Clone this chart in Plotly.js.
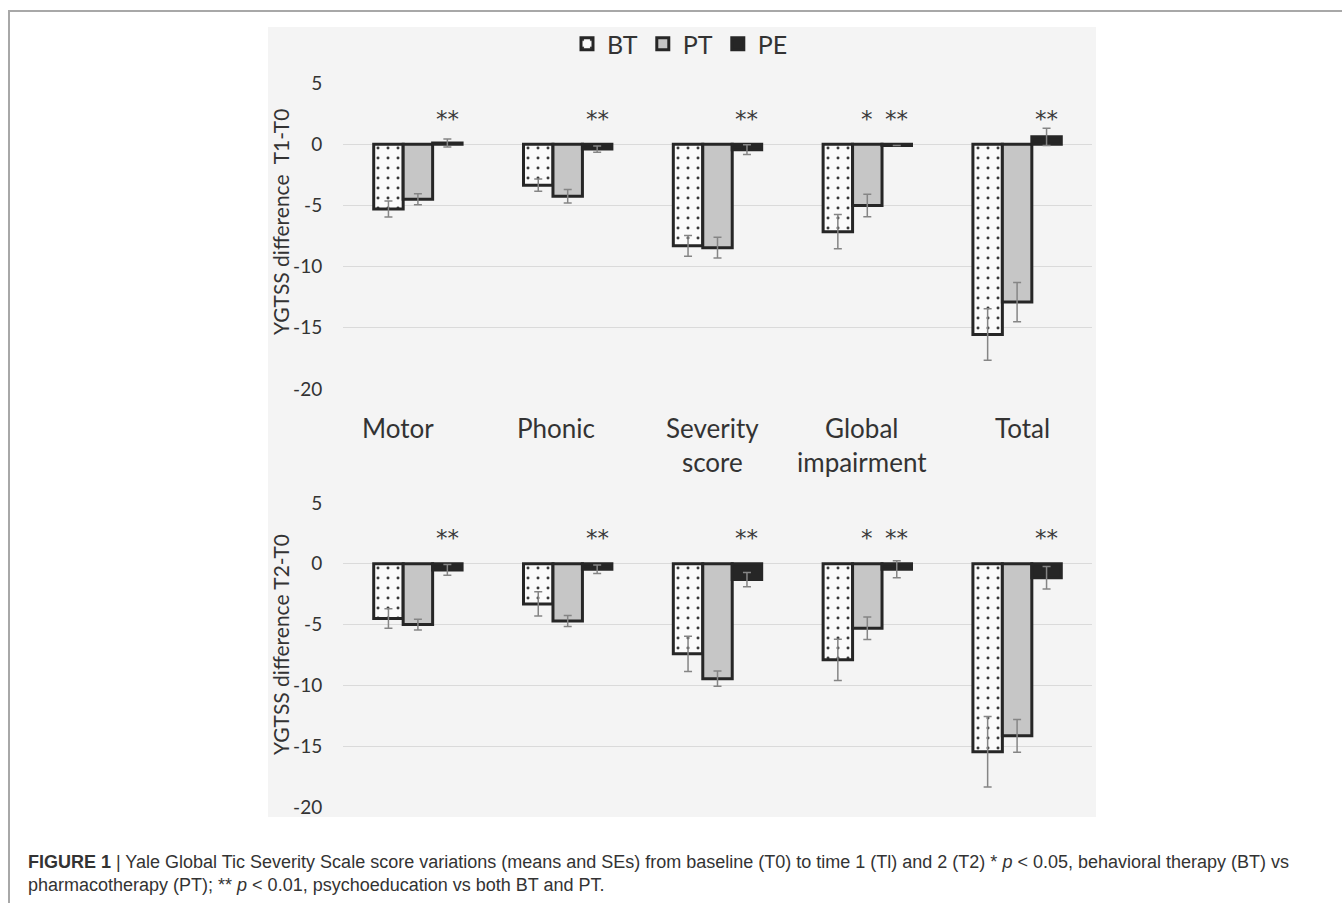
<!DOCTYPE html>
<html>
<head>
<meta charset="utf-8">
<script src="https://cdn.plot.ly/plotly-3.0.1.min.js"></script>
<style>
html,body{margin:0;padding:0;background:#fff;}
#chart{width:1342px;height:903px;}
</style>
</head>
<body>
<div id="chart"></div>
<script>
// ---- data ----
var categories = ['Motor', 'Phonic', 'Severity score', 'Global impairment', 'Total'];
var categoryLabels = ['Motor', 'Phonic', 'Severity<br>score', 'Global<br>impairment', 'Total'];
var seriesNames = ['BT', 'PT', 'PE'];

// T1 - T0
var t1BT = [-5.3, -3.35, -8.3, -7.15, -15.55];
var t1BTse = [0.65, 0.5, 0.85, 1.4, 2.1];
var t1PT = [-4.5, -4.25, -8.45, -5.0, -12.9];
var t1PTse = [0.45, 0.55, 0.85, 0.92, 1.6];
var t1PE = [0.1, -0.4, -0.45, -0.1, 0.6];
var t1PEse = [0.33, 0.25, 0.4, 0, 0.7];

// T2 - T0
var t2BT = [-4.5, -3.3, -7.4, -7.9, -15.45];
var t2BTse = [0.8, 1.0, 1.45, 1.7, 2.9];
var t2PT = [-5.0, -4.7, -9.45, -5.3, -14.15];
var t2PTse = [0.45, 0.45, 0.63, 0.93, 1.35];
var t2PE = [-0.5, -0.45, -1.3, -0.45, -1.15];
var t2PEse = [0.45, 0.35, 0.58, 0.7, 0.92];

// significance marks
var sigBTvsPT = ['', '', '', '*', ''];
var sigPE = ['**', '**', '**', '**', '**'];

var yTicks = [5, 0, -5, -10, -15, -20];
var yTitles = ['YGTSS difference  T1-T0', 'YGTSS difference T2-T0'];

// ---- styles ----
var FONT = 'Lato, "Open Sans", sans-serif';
var outline = {color: '#262626', width: 3};
var errStyle = {type: 'data', visible: true, color: '#858585', thickness: 1.5, width: 4};

function mkBar(name, y, se, xa, ya, show) {
  var marker;
  if (name === 'BT') {
    marker = {color: '#fbfbfb', line: outline,
      pattern: {shape: '.', fgcolor: '#3a3a3a', bgcolor: '#fbfbfb', size: 10, solidity: 0.07}};
  } else if (name === 'PT') {
    marker = {color: '#c6c6c6', line: outline};
  } else {
    marker = {color: '#262626', line: outline};
  }
  return {
    type: 'bar', name: name, x: categories, y: y,
    error_y: Object.assign({array: se}, errStyle),
    marker: marker, xaxis: xa, yaxis: ya, showlegend: show,
    legendgroup: name, hoverinfo: 'x+y'
  };
}

var data = [
  mkBar('BT', t1BT, t1BTse, 'x', 'y', true),
  mkBar('PT', t1PT, t1PTse, 'x', 'y', true),
  mkBar('PE', t1PE, t1PEse, 'x', 'y', true),
  mkBar('BT', t2BT, t2BTse, 'x2', 'y2', false),
  mkBar('PT', t2PT, t2PTse, 'x2', 'y2', false),
  mkBar('PE', t2PE, t2PEse, 'x2', 'y2', false)
];

// geometry helpers (pixel -> paper)
var W = 1342, H = 903, L = 343, R = 1092, T = 83, B = 807;
function px(X) { return (X - L) / (R - L); }
function py(Y) { return (B - Y) / (B - T); }

var barPx = (R - L) / categories.length * (1 - 0.41) / 3;

var STARFONT = {family: '"DejaVu Sans", sans-serif', size: 23, color: '#3a3a3a'};
var annotations = [];
// significance stars
[['x', 'y'], ['x2', 'y2']].forEach(function (ax) {
  categories.forEach(function (c, i) {
    if (sigBTvsPT[i]) annotations.push({xref: ax[0], yref: ax[1], x: c, y: 2.5, xshift: 0, yshift: -5,
      text: sigBTvsPT[i], showarrow: false, font: STARFONT, xanchor: 'center', yanchor: 'middle'});
    if (sigPE[i]) annotations.push({xref: ax[0], yref: ax[1], x: c, y: 2.5, xshift: barPx, yshift: -5,
      text: sigPE[i], showarrow: false, font: STARFONT, xanchor: 'center', yanchor: 'middle'});
  });
});
// category labels between panels
var labelShift = [-20, -12, -5, -5, 5];
categories.forEach(function (c, i) {
  annotations.push({xref: 'x', yref: 'paper', x: c, y: py(410), xanchor: 'center', yanchor: 'top',
    xshift: labelShift[i], text: categoryLabels[i], showarrow: false, align: 'center',
    font: {family: FONT, size: 26, color: '#333'}});
});
// y-axis titles
annotations.push({xref: 'paper', yref: 'paper', x: px(280), y: py(222), xanchor: 'center', yanchor: 'middle',
  textangle: -90, text: yTitles[0], showarrow: false, font: {family: FONT, size: 21, color: '#333'}});
annotations.push({xref: 'paper', yref: 'paper', x: px(280), y: py(645), xanchor: 'center', yanchor: 'middle',
  textangle: -90, text: yTitles[1], showarrow: false, font: {family: FONT, size: 21, color: '#333'}});
// caption
annotations.push({xref: 'paper', yref: 'paper', x: px(26), y: py(850), xanchor: 'left', yanchor: 'top',
  align: 'left', showarrow: false,
  font: {family: '"Liberation Sans", Arial, sans-serif', size: 18, color: '#333'},
  text: '<b>FIGURE 1</b> | Yale Global Tic Severity Scale score variations (means and SEs) from baseline (T0) to time 1 (Tl) and 2 (T2) * <i>p</i> &lt; 0.05, behavioral therapy (BT) vs<br>pharmacotherapy (PT); ** <i>p</i> &lt; 0.01, psychoeducation vs both BT and PT.'});

var yBase = {
  range: [-20, 5], tickvals: yTicks, ticktext: yTicks.map(String),
  showgrid: true, gridcolor: '#dadada', gridwidth: 1,
  zeroline: true, zerolinecolor: '#dadada', zerolinewidth: 1,
  showline: false, ticks: 'outside', ticklen: 16, tickcolor: 'rgba(0,0,0,0)',
  tickfont: {family: FONT, size: 19, color: '#333'}, fixedrange: true
};
var xBase = {type: 'category', showticklabels: false, showgrid: false, zeroline: false,
  showline: false, ticks: '', fixedrange: true};

var layout = {
  width: W, height: H,
  margin: {l: L, r: W - R, t: T, b: H - B, pad: 0},
  paper_bgcolor: '#ffffff', plot_bgcolor: 'rgba(0,0,0,0)',
  barmode: 'group', bargap: 0.41, bargroupgap: 0,
  font: {family: FONT, color: '#333'},
  xaxis: Object.assign({anchor: 'y', domain: [0, 1]}, xBase),
  xaxis2: Object.assign({anchor: 'y2', domain: [0, 1], matches: 'x'}, xBase),
  yaxis: Object.assign({anchor: 'x', domain: [py(389), 1]}, yBase),
  yaxis2: Object.assign({anchor: 'x2', domain: [0, py(503)]}, yBase),
  legend: {orientation: 'h', x: px(680), xanchor: 'center', y: py(44), yanchor: 'middle',
    font: {family: FONT, size: 25, color: '#333'}, bgcolor: 'rgba(0,0,0,0)',
    traceorder: 'normal', itemwidth: 30, tracegroupgap: 0},
  shapes: [
    {type: 'rect', xref: 'paper', yref: 'paper', x0: px(268), x1: px(1096), y0: py(817), y1: py(27),
      fillcolor: '#f4f4f4', line: {width: 0}, layer: 'below'},
    {type: 'line', xref: 'paper', yref: 'paper', x0: px(8), x1: px(1342), y0: py(11), y1: py(11),
      line: {color: '#a8a8a8', width: 2}},
    {type: 'line', xref: 'paper', yref: 'paper', x0: px(9), x1: px(9), y0: py(11), y1: py(903),
      line: {color: '#a8a8a8', width: 2}}
  ],
  annotations: annotations,
  showlegend: true
};

Plotly.newPlot('chart', data, layout, {displayModeBar: false, staticPlot: true});
</script>
</body>
</html>
